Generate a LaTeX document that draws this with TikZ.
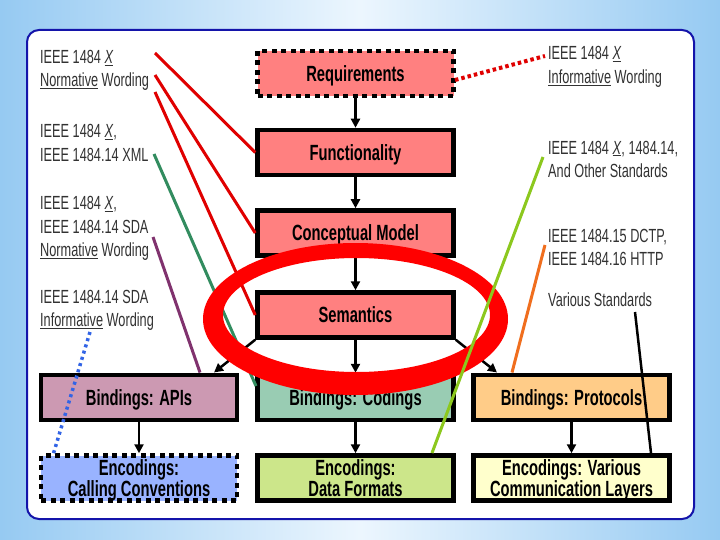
\documentclass[tikz,border=0pt]{standalone}
\usepackage{fontspec}
\setmainfont{Liberation Sans}
\newfontfamily\annfont[FakeStretch=0.67]{Liberation Sans}
\newfontfamily\boxfont[FakeStretch=0.67]{Liberation Sans}
\usetikzlibrary{arrows.meta}
\definecolor{salm}{RGB}{255,128,128}
\definecolor{apiscol}{RGB}{204,153,178}
\definecolor{codcol}{RGB}{153,204,179}
\definecolor{protcol}{RGB}{255,204,136}
\definecolor{callcol}{RGB}{153,179,255}
\definecolor{datacol}{RGB}{204,230,138}
\definecolor{commcol}{RGB}{255,255,204}
\definecolor{panelblue}{RGB}{20,20,170}
\definecolor{lnred}{RGB}{224,0,0}
\definecolor{lngreen}{RGB}{50,140,95}
\definecolor{lnpurple}{RGB}{128,50,110}
\definecolor{lnblue}{RGB}{50,100,230}
\definecolor{lnlime}{RGB}{140,200,30}
\definecolor{lnorange}{RGB}{240,110,30}
\definecolor{anntext}{RGB}{50,50,50}
\definecolor{bgedge}{RGB}{150,202,242}
\definecolor{bgmid}{RGB}{236,246,254}
\tikzset{
  stdbox/.style={draw=black, line width=4.5pt, minimum width=196pt, minimum height=45pt,
    inner sep=0pt, align=center, text depth=0pt,
    font=\boxfont\bfseries\fontsize{22}{20.5}\selectfont},
  dotbox/.style={stdbox, dash pattern=on 5pt off 4.5pt},
  ann/.style={anchor=west, inner sep=0pt, align=left, text=anntext,
    font=\annfont\fontsize{19}{23.5}\selectfont},
  flow/.style={line width=2.5pt, -{Triangle[length=9pt,width=9pt]}},
  conn/.style={line width=3pt}
}
\begin{document}
\begin{tikzpicture}[x=1pt,y=-1pt]
\useasboundingbox (0,0) rectangle (720,540);
\shade[left color=bgedge, right color=bgedge, middle color=bgmid] (0,0) rectangle (720,540);
\draw[draw=panelblue, line width=2pt, fill=white, rounded corners=12pt] (27,30) rectangle (694,519);

% boxes
\node[dotbox, fill=salm] (req) at (355.5,73.5) {Requirements};
\node[stdbox, fill=salm] (func) at (355.5,152.5) {Functionality};
\node[stdbox, fill=salm] (concept) at (355.5,233) {Conceptual Model};
\node[stdbox, fill=salm] (sem) at (355.5,315) {Semantics};
\node[stdbox, fill=apiscol] (apis) at (139,397.5) {Bindings: APIs};
\node[stdbox, fill=codcol] (codings) at (355.5,397.5) {Bindings: Codings};
\node[stdbox, fill=protcol] (protocols) at (571.5,397.5) {Bindings: Protocols};
\node[dotbox, fill=callcol] (calling) at (139,478) {Encodings:\\Calling Conventions};
\node[stdbox, fill=datacol] (dataf) at (355.5,478) {Encodings:\\Data Formats};
\node[stdbox, fill=commcol] (comm) at (571.5,478) {Encodings: Various\\Communication Layers};

% flow arrows
\coordinate (apisin) at (214,372.5);
\coordinate (protin) at (497,372.5);
\draw[flow] (req) -- (func);
\draw[flow] (func) -- (concept);
\draw[flow] (concept) -- (sem);
\draw[flow] (sem) -- (codings);
\draw[flow] (sem.south west) -- (apisin);
\draw[flow] (sem.south east) -- (protin);
\draw[flow] (apis) -- (calling);
\draw[flow] (codings) -- (dataf);
\draw[flow] (protocols) -- (comm);

% annotations
\node[ann] (n1) at (40,70.5) {IEEE 1484 \underline{\textit{X}}\\\underline{Normative} Wording};
\node[ann] (n2) at (40,143) {IEEE 1484 \underline{\textit{X}},\\IEEE 1484.14 XML};
\node[ann] (n3) at (40,228.5) {IEEE 1484 \underline{\textit{X}},\\IEEE 1484.14 SDA\\\underline{Normative} Wording};
\node[ann] (n4) at (40,310.5) {IEEE 1484.14 SDA\\\underline{Informative} Wording};
\node[ann] (m1) at (548,67) {IEEE 1484 \underline{\textit{X}}\\\underline{Informative} Wording};
\node[ann] (m2) at (548,159.5) {IEEE 1484 \underline{\textit{X}}, 1484.14,\\And Other Standards};
\node[ann] (m3) at (548,247.5) {IEEE 1484.15 DCTP,\\IEEE 1484.16 HTTP};
\node[ann] (m4) at (548,300) {Various Standards};

% connector end points
\coordinate (a1) at (155,53);
\coordinate (a2) at (155,75);
\coordinate (a3) at (155,92);
\coordinate (g1) at (154,154);
\coordinate (g2) at (256,386);
\coordinate (p1) at (153,237);
\coordinate (p2) at (200,372.5);
\coordinate (b1) at (90,332);
\coordinate (b2) at (53,455);
\coordinate (rq) at (455,80);
\coordinate (r1) at (545,56);
\coordinate (y1) at (543,157);
\coordinate (y2) at (432,453);
\coordinate (o1) at (545,245);
\coordinate (o2) at (512,372.5);
\coordinate (k1) at (635,312);
\coordinate (k2) at (651,453);

\draw[conn, lnred] (a1) -- (func.west);
\draw[conn, lnred] (a2) -- (concept.west);
\draw[conn, lnred] (a3) -- (sem.west);
\draw[conn, lngreen] (g1) -- (g2);
\draw[conn, lnpurple] (p1) -- (p2);
\draw[line width=3.5pt, lnblue, dash pattern=on 3pt off 3.5pt] (b1) -- (b2);
\draw[line width=4pt, lnred, dash pattern=on 3.5pt off 3pt] (rq) -- (r1);

% highlight ellipse
\fill[red, even odd rule] (355.5,319) ellipse [x radius=152.5, y radius=76]
  (356.5,315) ellipse [x radius=133.5, y radius=57];

\draw[conn, lnlime] (y1) -- (y2);
\draw[conn, lnorange] (o1) -- (o2);
\draw[line width=2.5pt, black] (k1) -- (k2);
\end{tikzpicture}
\end{document}
